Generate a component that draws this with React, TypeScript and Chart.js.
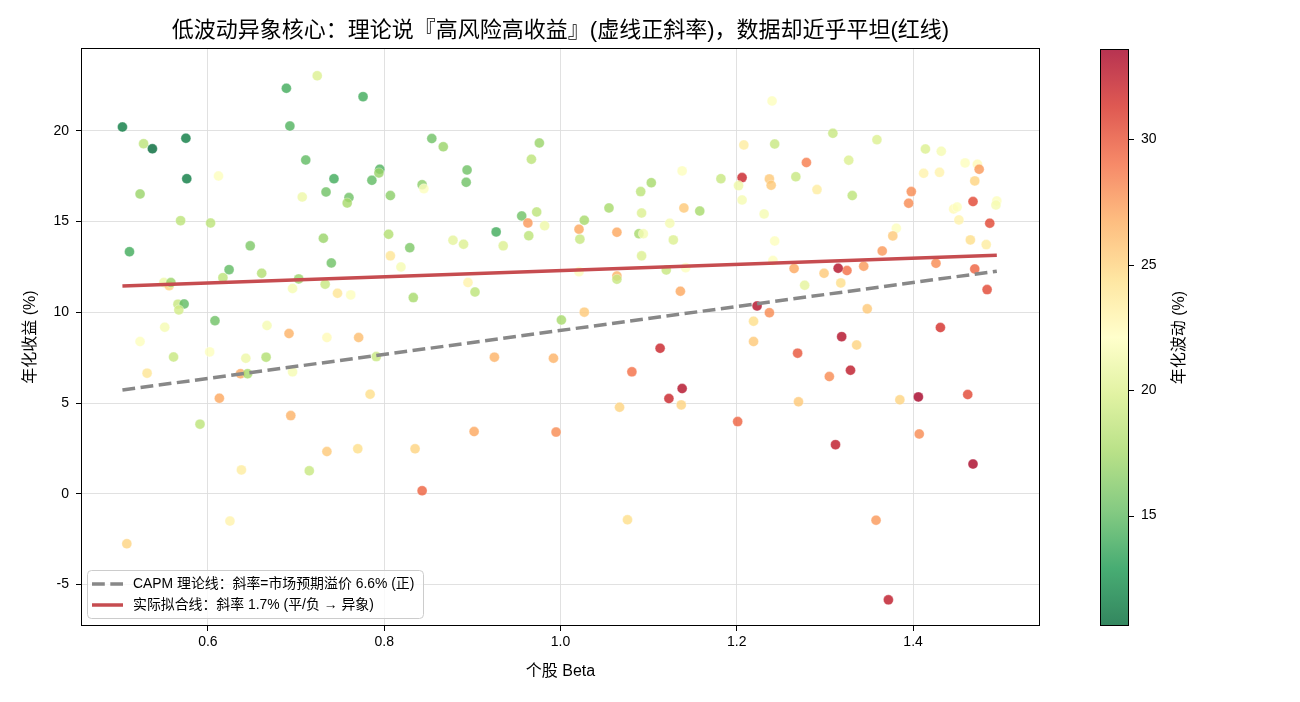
import React, { useEffect, useRef } from 'react';
import { Chart, registerables } from 'chart.js';

Chart.register(...registerables);

const FONT = "'Liberation Sans', Arial, 'Noto Sans CJK SC', sans-serif";

// Stock betas, annualised returns (%) and annualised volatility (%)
const BETA = [
  0.503, 0.527, 0.537, 0.575, 0.576, 0.612, 0.523, 0.569, 0.603, 0.511,
  0.648, 0.624, 0.617, 0.661, 0.689, 0.724, 0.693, 0.711, 0.707, 0.734,
  0.731, 0.740, 0.703, 0.696, 0.733, 0.550, 0.556, 0.558, 0.566, 0.573,
  0.567, 0.608, 0.551, 0.667, 0.692, 0.523, 0.735, 0.561, 0.602, 0.643,
  0.666, 0.531, 0.637, 0.645, 0.696, 0.613, 0.591, 0.694, 0.735, 0.638,
  0.715, 0.625, 0.508, 0.776, 0.854, 0.867, 0.976, 0.967, 0.743, 0.795,
  0.794, 0.786, 0.894, 0.893, 0.760, 0.758, 0.807, 0.843, 0.845, 0.956,
  0.973, 0.963, 0.982, 0.927, 0.964, 0.805, 0.878, 0.890, 0.935, 0.829,
  0.807, 0.819, 0.895, 0.903, 0.747, 0.762, 0.833, 1.001, 0.771, 0.791,
  0.784, 0.925, 0.992, 0.770, 0.835, 0.902, 0.995, 0.843, 1.240, 1.208,
  1.243, 1.279, 1.138, 1.103, 1.091, 1.182, 1.206, 1.202, 1.206, 1.237,
  1.239, 1.267, 1.055, 1.092, 1.140, 1.158, 1.231, 1.027, 1.021, 1.022,
  1.064, 1.089, 1.094, 1.124, 1.128, 1.092, 1.243, 1.241, 1.021, 1.064,
  1.064, 1.120, 1.142, 1.265, 1.277, 1.136, 1.027, 1.223, 1.219, 1.237,
  1.219, 1.113, 1.269, 1.081, 1.138, 1.123, 1.137, 1.067, 1.270, 1.201,
  1.076, 1.309, 1.359, 1.327, 1.291, 1.331, 1.414, 1.432, 1.412, 1.430,
  1.459, 1.473, 1.475, 1.470, 1.398, 1.395, 1.468, 1.446, 1.450, 1.452,
  1.495, 1.494, 1.487, 1.381, 1.377, 1.365, 1.465, 1.483, 1.344, 1.325,
  1.315, 1.299, 1.318, 1.426, 1.470, 1.484, 1.348, 1.319, 1.336, 1.431,
  1.305, 1.329, 1.385, 1.406, 1.462, 1.407, 1.312, 1.468, 1.358, 1.372,
];

const RET = [
  20.21, 19.29, 19.01, 19.59, 17.36, 17.51, 16.52, 15.05, 14.92, 13.34,
  13.66, 12.35, 11.91, 12.15, 22.34, 23.03, 20.26, 18.39, 16.35, 16.63,
  14.08, 12.72, 11.84, 11.31, 11.55, 11.64, 11.47, 11.64, 10.45, 10.46,
  10.13, 9.54, 9.18, 9.27, 8.83, 8.39, 8.61, 7.54, 7.82, 7.47,
  7.53, 6.65, 6.62, 6.62, 6.72, 5.27, 3.84, 4.31, 2.33, 1.32,
  1.27, -1.50, -2.75, 21.88, 19.57, 19.12, 19.33, 18.43, 17.36, 17.88,
  17.68, 17.27, 17.84, 17.16, 16.32, 16.02, 16.43, 17.03, 16.81, 15.31,
  15.53, 14.92, 14.77, 14.43, 14.22, 14.30, 13.97, 13.75, 13.66, 13.56,
  13.11, 12.50, 11.64, 11.12, 11.05, 10.96, 10.81, 9.58, 8.61, 7.56,
  5.49, 7.53, 7.47, 2.48, 2.48, 3.43, 3.40, 0.17, 21.64, 19.22,
  19.27, 18.25, 17.79, 17.14, 16.65, 17.36, 17.42, 16.98, 16.19, 17.35,
  17.00, 17.47, 15.75, 15.47, 15.75, 15.58, 15.42, 15.07, 14.58, 14.03,
  14.41, 14.33, 14.33, 14.91, 13.99, 13.11, 13.93, 12.85, 12.24, 12.00,
  11.82, 12.33, 12.46, 12.41, 11.49, 11.16, 10.01, 10.35, 9.51, 9.98,
  8.39, 8.02, 7.75, 6.72, 5.80, 5.25, 4.90, 4.77, 5.07, 3.98,
  -1.43, 19.86, 19.51, 18.38, 16.76, 16.43, 19.00, 18.87, 17.66, 17.71,
  18.23, 18.16, 17.88, 17.24, 16.65, 16.01, 16.10, 15.69, 15.80, 15.09,
  16.13, 15.91, 14.91, 14.63, 14.21, 13.38, 13.99, 13.73, 12.54, 12.30,
  12.43, 12.15, 11.62, 12.70, 12.39, 11.25, 10.19, 8.66, 8.20, 9.16,
  6.46, 6.81, 5.18, 5.34, 5.47, 3.30, 2.71, 1.64, -1.45, -5.84,
];

const VOL = [
  11.5, 18.5, 10.6, 11.5, 11.5, 22, 17, 18.5, 18.5, 14,
  16, 15, 18.5, 18, 14, 20, 14.5, 15, 21, 15.5,
  17, 15.5, 17, 21.5, 19, 21, 25, 17, 19, 15,
  19.5, 15.5, 21.5, 21.5, 26.5, 22, 22.5, 19, 22, 21,
  18, 24, 27, 17.5, 21.5, 27, 18.5, 26.5, 25.5, 23.5,
  19, 23, 25, 14, 15.5, 17, 17, 18.5, 14, 14.5,
  17, 15, 15.5, 15.5, 15.5, 17.5, 16.5, 16.5, 22, 15.5,
  18.5, 27.5, 21, 14, 18.5, 18, 20.5, 20, 20, 16,
  24, 21.5, 23, 18.5, 24, 22, 17.5, 17.5, 26, 19,
  24.5, 26.5, 26.5, 24.5, 25, 27, 28, 29.5, 22, 23.5,
  19, 28.5, 22, 17.5, 18.5, 19, 32, 21, 21.5, 25.5,
  25.5, 19, 17.5, 20, 25.5, 17.5, 21.5, 17.5, 27, 19,
  27, 17.5, 21.5, 21.5, 20, 20, 22, 22, 22, 26.5,
  19, 19, 22, 27, 20.5, 27, 25.5, 33, 24.5, 28,
  25.5, 32, 30, 29, 33, 32, 25, 25, 25.5, 29.5,
  24.5, 19, 20, 20, 23.5, 18.5, 20, 21.5, 23, 23,
  22, 22.5, 27.5, 25, 28, 28, 30.5, 22.5, 22, 23,
  22, 21.5, 30.5, 22, 25.5, 27.5, 24.5, 23.5, 27.5, 29,
  33, 25.5, 24.5, 28, 29.5, 30.5, 25.5, 33, 25, 31.5,
  28, 32.5, 25, 33.6, 30.5, 28, 32.5, 33.4, 27.5, 32.5,
];

// Axis ranges and tick values
const X_RANGE = [0.456, 1.544];
const Y_RANGE = [-7.28, 24.56];
const X_TICKS = [0.6, 0.8, 1.0, 1.2, 1.4];
const Y_TICKS = [-5, 0, 5, 10, 15, 20];
const VOL_TICKS = [15, 20, 25, 30];

// Reference lines: CAPM (risk-free + beta * market premium) and the fitted line
const CAPM_RF = 2.4;
const CAPM_SLOPE = 6.6;
const FIT_INTERCEPT = 10.6;
const FIT_SLOPE = 1.7;

const TITLE = '低波动异象核心：理论说『高风险高收益』(虚线正斜率)，数据却近乎平坦(红线)';
const X_LABEL = '个股 Beta';
const Y_LABEL = '年化收益 (%)';
const CBAR_LABEL = '年化波动 (%)';
const CAPM_LABEL = `CAPM 理论线：斜率=市场预期溢价 ${CAPM_SLOPE.toFixed(1)}% (正)`;
const FIT_LABEL = `实际拟合线：斜率 ${FIT_SLOPE.toFixed(1)}% (平/负 → 异象)`;

const POINT_ALPHA = 0.8;

// RdYlGn control colours; reversed so that low volatility is green
const RDYLGN = [
  [165, 0, 38], [215, 48, 39], [244, 109, 67], [253, 174, 97], [254, 224, 139],
  [255, 255, 191], [217, 239, 139], [166, 217, 106], [102, 189, 99], [26, 152, 80], [0, 104, 55],
];

function rdYlGnR(t: number): number[] {
  const u = Math.min(1, Math.max(0, 1 - t)) * 10;
  const i = Math.min(9, Math.floor(u));
  const f = u - i;
  const a = RDYLGN[i];
  const b = RDYLGN[i + 1];
  return a.map((c, k) => Math.round(c + (b[k] - c) * f));
}

const VOL_MIN = Math.min(...VOL);
const VOL_MAX = Math.max(...VOL);

function volColor(v: number, alpha = POINT_ALPHA): string {
  const [r, g, b] = rdYlGnR((v - VOL_MIN) / (VOL_MAX - VOL_MIN));
  return `rgba(${r},${g},${b},${alpha})`;
}

const BETA_MIN = Math.min(...BETA);
const BETA_MAX = Math.max(...BETA);

const CAPM_COLOR = 'rgb(136,136,136)';
const FIT_COLOR = 'rgb(198,76,80)';
const CAPM_DASH = [12.8, 5.5];

const decorPlugin = {
  id: 'decor',
  afterDraw(chart: any) {
    const { ctx, chartArea: a } = chart;
    ctx.save();

    // axes frame
    ctx.strokeStyle = '#000';
    ctx.lineWidth = 1;
    ctx.strokeRect(a.left + 0.5, a.top + 0.5, a.right - a.left - 1, a.bottom - a.top - 1);

    // title
    ctx.fillStyle = '#000';
    ctx.font = `22px ${FONT}`;
    ctx.textAlign = 'center';
    ctx.textBaseline = 'middle';
    ctx.fillText(TITLE, (a.left + a.right) / 2, 31);

    // axis labels
    ctx.font = `16px ${FONT}`;
    ctx.fillText(X_LABEL, (a.left + a.right) / 2, 672);
    ctx.save();
    ctx.translate(31, (a.top + a.bottom) / 2);
    ctx.rotate(-Math.PI / 2);
    ctx.fillText(Y_LABEL, 0, 0);
    ctx.restore();

    // legend
    const lx = 87, ly = 570, lw = 336, lh = 48;
    ctx.beginPath();
    ctx.roundRect(lx + 0.5, ly + 0.5, lw, lh, 4);
    ctx.fillStyle = 'rgba(255,255,255,0.8)';
    ctx.fill();
    ctx.strokeStyle = '#cccccc';
    ctx.lineWidth = 1;
    ctx.stroke();
    const rows = [chart.data.datasets[1], chart.data.datasets[2]];
    rows.forEach((ds: any, i: number) => {
      const y = 584 + i * 21;
      ctx.beginPath();
      ctx.setLineDash(ds.borderDash || []);
      ctx.strokeStyle = ds.borderColor;
      ctx.lineWidth = ds.borderWidth;
      ctx.moveTo(92, y);
      ctx.lineTo(123, y);
      ctx.stroke();
      ctx.setLineDash([]);
      ctx.fillStyle = '#000';
      ctx.font = `13.9px ${FONT}`;
      ctx.textAlign = 'left';
      ctx.textBaseline = 'middle';
      ctx.fillText(ds.label, 133, y);
    });

    // colour bar
    const cx = 1100, cw = 29, ct = a.top + 1, cb = a.bottom;
    const grad = ctx.createLinearGradient(0, cb, 0, ct);
    for (let s = 0; s <= 40; s++) {
      const v = VOL_MIN + (VOL_MAX - VOL_MIN) * (s / 40);
      grad.addColorStop(s / 40, volColor(v));
    }
    ctx.fillStyle = grad;
    ctx.fillRect(cx, ct, cw, cb - ct);
    ctx.strokeStyle = '#000';
    ctx.lineWidth = 1;
    ctx.strokeRect(cx + 0.5, ct + 0.5, cw - 1, cb - ct - 1);
    ctx.font = `14px ${FONT}`;
    ctx.textAlign = 'left';
    ctx.textBaseline = 'middle';
    ctx.fillStyle = '#000';
    VOL_TICKS.forEach((v) => {
      const y = cb - ((v - VOL_MIN) / (VOL_MAX - VOL_MIN)) * (cb - ct);
      ctx.beginPath();
      ctx.moveTo(cx + cw, Math.round(y) + 0.5);
      ctx.lineTo(cx + cw + 5, Math.round(y) + 0.5);
      ctx.stroke();
      ctx.fillText(String(v), cx + cw + 12, y);
    });
    ctx.save();
    ctx.font = `16px ${FONT}`;
    ctx.textAlign = 'center';
    ctx.translate(1180, (ct + cb) / 2);
    ctx.rotate(-Math.PI / 2);
    ctx.fillText(CBAR_LABEL, 0, 0);
    ctx.restore();

    ctx.restore();
  },
};

export default function App() {
  const canvasRef = useRef<HTMLCanvasElement | null>(null);

  useEffect(() => {
    const canvas = canvasRef.current;
    if (!canvas) return;

    const points = BETA.map((b, i) => ({ x: b, y: RET[i] }));
    const colors = VOL.map((v) => volColor(v));
    const capmLine = [BETA_MIN, BETA_MAX].map((b) => ({ x: b, y: CAPM_RF + CAPM_SLOPE * b }));
    const fitLine = [BETA_MIN, BETA_MAX].map((b) => ({ x: b, y: FIT_INTERCEPT + FIT_SLOPE * b }));

    const tickFont = { family: FONT, size: 14 };
    const grid = {
      color: '#dedede',
      lineWidth: 0.9,
      tickColor: '#000',
      tickLength: 5,
      tickWidth: 1,
    };

    const chart = new Chart(canvas, {
      type: 'scatter',
      data: {
        datasets: [
          {
            label: '个股',
            data: points,
            pointRadius: 5,
            pointBackgroundColor: colors,
            pointBorderColor: 'rgba(255,255,255,0.55)',
            pointBorderWidth: 0.6,
            order: 10,
          },
          {
            type: 'line',
            label: CAPM_LABEL,
            data: capmLine,
            borderColor: CAPM_COLOR,
            borderWidth: 3.5,
            borderDash: CAPM_DASH,
            pointRadius: 0,
            fill: false,
            order: 2,
          },
          {
            type: 'line',
            label: FIT_LABEL,
            data: fitLine,
            borderColor: FIT_COLOR,
            borderWidth: 3.5,
            pointRadius: 0,
            fill: false,
            order: 1,
          },
        ],
      } as any,
      options: {
        animation: false,
        responsive: false,
        devicePixelRatio: 1,
        layout: { padding: { top: 48, right: 260, bottom: 0, left: 0 } },
        plugins: {
          legend: { display: false },
          tooltip: { enabled: false },
          title: { display: false },
        },
        scales: {
          x: {
            type: 'linear',
            min: X_RANGE[0],
            max: X_RANGE[1],
            afterBuildTicks: (s: any) => {
              s.ticks = X_TICKS.map((v) => ({ value: v }));
            },
            afterFit: (s: any) => {
              s.height = 76;
            },
            ticks: {
              font: tickFont,
              color: '#000',
              padding: 3,
              maxRotation: 0,
              callback: (v: any) => Number(v).toFixed(1),
            },
            grid,
            border: { display: false },
          },
          y: {
            type: 'linear',
            min: Y_RANGE[0],
            max: Y_RANGE[1],
            afterBuildTicks: (s: any) => {
              s.ticks = Y_TICKS.map((v) => ({ value: v }));
            },
            afterFit: (s: any) => {
              s.width = 81;
            },
            ticks: {
              font: tickFont,
              color: '#000',
              padding: 7,
              callback: (v: any) => String(v),
            },
            grid,
            border: { display: false },
          },
        },
      } as any,
      plugins: [decorPlugin],
    });

    return () => chart.destroy();
  }, []);

  return (
    <div style={{ position: 'absolute', left: 0, top: 0, width: 1300, height: 702, background: '#fff' }}>
      <canvas ref={canvasRef} width={1300} height={702} />
    </div>
  );
}
